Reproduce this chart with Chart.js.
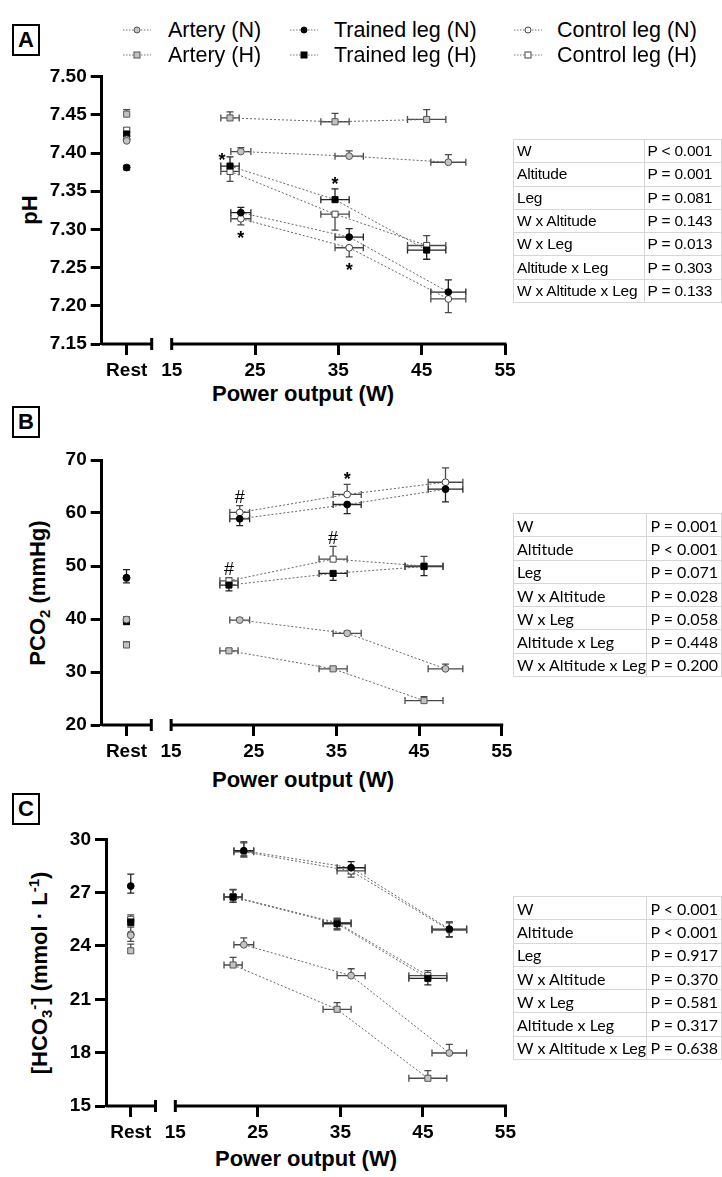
<!DOCTYPE html>
<html>
<head>
<meta charset="utf-8">
<script src="https://cdn.jsdelivr.net/npm/chart.js@4.4.1/dist/chart.umd.min.js"></script>
<style>
  html, body { margin: 0; padding: 0; background: #fff; }
  body { width: 722px; height: 1177px; position: relative; overflow: hidden; font-family: "Liberation Sans", Arial, sans-serif; color: #000; }
  canvas { position: absolute; left: 0; }
  .tag { position: absolute; left: 12px; width: 24px; height: 28px; border: 2.5px solid #000; font: bold 22px "Liberation Sans", Arial, sans-serif; text-align: center; line-height: 28px; }
  .ytitle { position: absolute; font: bold 22px "Liberation Sans", Arial, sans-serif; white-space: nowrap; transform: translate(-50%, -50%) rotate(-90deg); }
  .xtitle { position: absolute; font: bold 22px "Liberation Sans", Arial, sans-serif; white-space: nowrap; transform: translate(-50%, -50%); }
  .ytitle sub, .ytitle sup { font-size: 15px; }
  .lg-text { position: absolute; font: 21.5px "Liberation Sans", Arial, sans-serif; white-space: nowrap; transform: translateY(-50%); }
  .lg-mark { position: absolute; }
  table.stats { position: absolute; left: 513px; border-collapse: collapse; }
  table.stats td { border: 1px solid #d6d6d6; height: 22.3px; padding: 0 0 0 3px; white-space: nowrap; }
  table.stats td:first-child { width: 131px; }
  table.stats td:last-child { width: 80px; }
  table.arial td { font: 15.5px "Liberation Sans", Arial, sans-serif; letter-spacing: -0.2px; }
  table.calibri td { font: 16px Lato, "Open Sans", sans-serif; }
</style>
</head>
<body>

<div class="tag" style="top:24px">A</div>
<div class="tag" style="top:406px">B</div>
<div class="tag" style="top:793px">C</div>

<div class="ytitle" style="left:30px; top:210px">pH</div>
<div class="ytitle" style="left:39px; top:593px">PCO<sub>2</sub> (mmHg)</div>
<div class="ytitle" style="left:40px; top:973px">[HCO<sub>3</sub><sup>-</sup>] (mmol · L<sup>-1</sup>)</div>

<div class="xtitle" style="left:303px; top:394px">Power output (W)</div>
<div class="xtitle" style="left:303px; top:780px">Power output (W)</div>
<div class="xtitle" style="left:306px; top:1159px">Power output (W)</div>

<canvas id="chartA" width="520" height="324" style="top:60px"></canvas>
<canvas id="chartB" width="520" height="325" style="top:440px"></canvas>
<canvas id="chartC" width="520" height="326" style="top:820px"></canvas>

<div id="legend"></div>
<table class="stats arial" id="tableA" style="top:139px"></table>
<table class="stats calibri" id="tableB" style="top:513px"></table>
<table class="stats calibri" id="tableC" style="top:896px"></table>

<script>
// ---- series ----
const seriesNames = ['Artery (N)', 'Trained leg (N)', 'Control leg (N)', 'Artery (H)', 'Trained leg (H)', 'Control leg (H)'];
const seriesShape = ['circle', 'circle', 'circle', 'rect', 'rect', 'rect'];
const seriesFill = ['#c3c3c3', '#000', '#fff', '#c3c3c3', '#000', '#fff'];
const seriesEdge = ['#555', '#000', '#444', '#555', '#000', '#444'];

// power output (W) for normoxia / hypoxia, with SD
const powerN = [23.3, 36.3, 48.2];
const powerH = [22.0, 34.6, 45.6];
const powerSdN = [1.2, 1.7, 2.1];
const powerSdH = [1.1, 1.7, 2.3];
const powerTicks = [15, 25, 35, 45, 55];

// ---- A: pH ----
const phTicks = [7.15, 7.20, 7.25, 7.30, 7.35, 7.40, 7.45, 7.50];
const phArteryN = [7.402, 7.396, 7.388];
const phTrainedN = [7.322, 7.290, 7.218];
const phControlN = [7.314, 7.276, 7.209];
const phArteryH = [7.446, 7.441, 7.444];
const phTrainedH = [7.383, 7.339, 7.273];
const phControlH = [7.376, 7.320, 7.279];
// error bars as [below, above]
const phErr = [
  [[0, 0.005], [0, 0.007], [0, 0.010]],
  [[0, 0.007], [0, 0.011], [0, 0.016]],
  [[0.008, 0], [0.012, 0], [0.018, 0]],
  [[0, 0.008], [0, 0.011], [0, 0.013]],
  [[0, 0.012], [0, 0.014], [0.012, 0]],
  [[0.013, 0], [0.021, 0], [0, 0.013]]
];
const phRest = [7.416, 7.381, 7.418, 7.451, 7.425, 7.430];
const phRestErr = [[0, 0.003], [0.003, 0.003], [0, 0], [0, 0.006], [0.003, 0], [0, 0.003]];
const phMarks = [[4, 0, '*', 'left'], [4, 1, '*', 'up'], [2, 0, '*', 'down'], [2, 1, '*', 'down']];
const phP = ['P < 0.001', 'P = 0.001', 'P = 0.081', 'P = 0.143', 'P = 0.013', 'P = 0.303', 'P = 0.133'];

// ---- B: PCO2 ----
const pco2Ticks = [20, 30, 40, 50, 60, 70];
const pco2ArteryN = [39.8, 37.3, 30.6];
const pco2TrainedN = [58.9, 61.6, 64.5];
const pco2ControlN = [60.1, 63.5, 65.8];
const pco2ArteryH = [34.0, 30.6, 24.6];
const pco2TrainedH = [46.4, 48.6, 49.9];
const pco2ControlH = [47.2, 51.3, 50.0];
const pco2Err = [
  [[0, 0.4], [0, 0.4], [0, 0.9]],
  [[1.3, 0], [1.7, 0], [2.4, 0]],
  [[0, 1.3], [0, 1.9], [0, 2.7]],
  [[0, 0.4], [0, 0.4], [0, 0.75]],
  [[1.1, 0], [1.3, 0], [1.7, 0]],
  [[0, 0.6], [0, 2.4], [0, 1.8]]
];
const pco2Rest = [39.9, 47.8, 47.7, 35.1, 39.5, 39.8];
const pco2RestErr = [[0, 0], [1.0, 1.5], [0, 0], [0, 0.6], [0.4, 0], [0, 0.6]];
const pco2Marks = [[2, 0, '#', 'up'], [2, 1, '*', 'up'], [5, 0, '#', 'up'], [5, 1, '#', 'up']];
const pco2P = ['P = 0.001', 'P < 0.001', 'P = 0.071', 'P = 0.028', 'P = 0.058', 'P = 0.448', 'P = 0.200'];

// ---- C: HCO3- ----
const hco3Ticks = [15, 18, 21, 24, 27, 30];
const hco3ArteryN = [24.07, 22.33, 17.98];
const hco3TrainedN = [29.36, 28.40, 24.95];
const hco3ControlN = [29.30, 28.22, 24.90];
const hco3ArteryH = [22.93, 20.44, 16.56];
const hco3TrainedH = [26.75, 25.25, 22.18];
const hco3ControlH = [26.77, 25.31, 22.33];
const hco3Err = [
  [[0, 0.39], [0, 0.39], [0, 0.49]],
  [[0.3, 0.5], [0.34, 0.34], [0.43, 0.41]],
  [[0.3, 0.5], [0.35, 0], [0.4, 0.4]],
  [[0, 0.43], [0, 0.37], [0, 0.43]],
  [[0.3, 0.4], [0.34, 0.25], [0.37, 0]],
  [[0.3, 0.41], [0.34, 0.25], [0, 0.28]]
];
const hco3Rest = [24.6, 27.37, 24.66, 23.73, 25.35, 25.5];
const hco3RestErr = [[0, 0], [0.4, 0.67], [0.4, 0.4], [0, 0.37], [0.2, 0], [0, 0.25]];
const hco3Marks = [];
const hco3P = ['P < 0.001', 'P < 0.001', 'P = 0.917', 'P = 0.370', 'P = 0.581', 'P = 0.317', 'P = 0.638'];

const effects = ['W', 'Altitude', 'Leg', 'W x Altitude', 'W x Leg', 'Altitude x Leg', 'W x Altitude x Leg'];

// x scale layout: the Rest column and the broken axis live on one linear scale
const X_MIN = 6.6, X_MAX = 55;
const REST_X = 9.6;
const BREAK_X = 12.6;

const FONT = '"Liberation Sans", Arial, sans-serif';
Chart.defaults.animation = false;
Chart.defaults.font.family = FONT;

const errorBars = {
  id: 'errorBars',
  beforeDatasetsDraw(chart) {
    const { ctx, scales: { x, y } } = chart;
    const cap = 3.5;
    ctx.save();
    ctx.lineWidth = 1.3;
    chart.data.datasets.forEach(ds => {
      ctx.strokeStyle = ds.errColor;
      ds.data.forEach((p, j) => {
        const px = x.getPixelForValue(p.x), py = y.getPixelForValue(p.y);
        const [lo, hi] = ds.errY[j];
        ctx.beginPath();
        if (hi > 0) {
          const t = y.getPixelForValue(p.y + hi);
          ctx.moveTo(px, py); ctx.lineTo(px, t);
          ctx.moveTo(px - cap, t); ctx.lineTo(px + cap, t);
        }
        if (lo > 0) {
          const b = y.getPixelForValue(p.y - lo);
          ctx.moveTo(px, py); ctx.lineTo(px, b);
          ctx.moveTo(px - cap, b); ctx.lineTo(px + cap, b);
        }
        const ex = ds.errX ? ds.errX[j] : 0;
        if (ex > 0) {
          const l = x.getPixelForValue(p.x - ex), r = x.getPixelForValue(p.x + ex);
          ctx.moveTo(l, py); ctx.lineTo(r, py);
          ctx.moveTo(l, py - cap); ctx.lineTo(l, py + cap);
          ctx.moveTo(r, py - cap); ctx.lineTo(r, py + cap);
        }
        ctx.stroke();
      });
    });
    ctx.restore();
  }
};

// broken x axis + significance marks
const axisBreak = {
  id: 'axisBreak',
  afterDraw(chart, args, opts) {
    const { ctx, scales: { x, y } } = chart;
    const ay = y.bottom;
    const xb = x.getPixelForValue(BREAK_X), x15 = x.getPixelForValue(powerTicks[0]);
    ctx.save();
    ctx.strokeStyle = '#000';
    ctx.lineWidth = 3;
    ctx.beginPath();
    ctx.moveTo(x.left, ay); ctx.lineTo(xb, ay);
    ctx.moveTo(x15, ay); ctx.lineTo(x.right + 1.5, ay);
    ctx.moveTo(xb, ay - 6); ctx.lineTo(xb, ay + 6);
    ctx.moveTo(x15, ay - 6); ctx.lineTo(x15, ay + 6);
    ctx.stroke();

    ctx.fillStyle = '#000';
    ctx.textAlign = 'center';
    ctx.textBaseline = 'alphabetic';
    (opts.marks || []).forEach(([si, j, sym, side]) => {
      const ds = chart.data.datasets[si];
      const p = ds.data[j];
      const [lo, hi] = ds.errY[j];
      let px = x.getPixelForValue(p.x), cy;
      if (side === 'down') cy = y.getPixelForValue(p.y - lo) + 9;
      else if (side === 'left') { cy = y.getPixelForValue(p.y + hi) - 1; px -= 8; }
      else cy = y.getPixelForValue(p.y + hi) - 9;
      if (sym === '*') {
        ctx.font = 'bold 18px ' + FONT;
        ctx.fillText(sym, px, cy + 10);
      } else {
        ctx.font = '18px ' + FONT;
        ctx.fillText(sym, px, cy + 6.5);
      }
    });
    ctx.restore();
  }
};

function buildPanel(id, layout, ticks, decimals, means, err, rest, restErr, marks) {
  const datasets = [];
  means.forEach((vals, i) => {
    const hyp = i >= 3;
    const w = hyp ? powerH : powerN;
    datasets.push({
      label: seriesNames[i],
      data: vals.map((v, j) => ({ x: w[j], y: v })),
      showLine: true,
      borderColor: '#666',
      borderWidth: 1,
      borderDash: [2, 2],
      pointStyle: seriesShape[i],
      pointRadius: seriesShape[i] === 'rect' ? 4.3 : 3.4,
      pointBackgroundColor: seriesFill[i],
      pointBorderColor: seriesEdge[i],
      pointBorderWidth: 1,
      errX: hyp ? powerSdH : powerSdN,
      errY: err[i],
      errColor: seriesFill[i] === '#000' ? '#222' : '#4a4a4a'
    });
  });
  rest.forEach((v, i) => {
    datasets.push({
      label: seriesNames[i] + ' rest',
      data: [{ x: REST_X, y: v }],
      showLine: false,
      pointStyle: seriesShape[i],
      pointRadius: seriesShape[i] === 'rect' ? 4.3 : 3.4,
      pointBackgroundColor: seriesFill[i],
      pointBorderColor: seriesEdge[i],
      pointBorderWidth: 1,
      errY: [restErr[i]],
      errColor: seriesFill[i] === '#000' ? '#222' : '#4a4a4a'
    });
  });

  const tickFont = { family: FONT, size: 19, weight: 'bold' };
  return new Chart(document.getElementById(id), {
    type: 'scatter',
    data: { datasets },
    options: {
      responsive: false,
      events: [],
      layout: { padding: { top: layout.top, right: layout.right, bottom: 0, left: 0 } },
      plugins: { legend: { display: false }, tooltip: { enabled: false }, axisBreak: { marks } },
      scales: {
        x: {
          type: 'linear', min: X_MIN, max: X_MAX,
          afterBuildTicks: s => { s.ticks = [REST_X, ...powerTicks].map(v => ({ value: v })); },
          afterFit: s => { s.height = 40; },
          border: { display: false },
          grid: {
            drawOnChartArea: false, tickLength: 11, tickWidth: 3,
            tickColor: c => (c.tick && c.tick.value === powerTicks[0]) ? 'rgba(0,0,0,0)' : '#000'
          },
          ticks: {
            autoSkip: false, maxRotation: 0, padding: 4, color: '#000', font: tickFont,
            callback: v => v === REST_X ? 'Rest' : String(v)
          }
        },
        y: {
          min: ticks[0], max: ticks[ticks.length - 1],
          afterBuildTicks: s => { s.ticks = ticks.map(v => ({ value: v })); },
          afterFit: s => { s.width = layout.yWidth; },
          border: { width: 3, color: '#000' },
          grid: { drawOnChartArea: false, tickLength: 11, tickWidth: 3, tickColor: '#000' },
          ticks: { padding: 4, color: '#000', font: tickFont, callback: v => v.toFixed(decimals) }
        }
      }
    },
    plugins: [errorBars, axisBreak]
  });
}

buildPanel('chartA', { top: 16.7, right: 15, yWidth: 101.7 }, phTicks, 2,
  [phArteryN, phTrainedN, phControlN, phArteryH, phTrainedH, phControlH], phErr, phRest, phRestErr, phMarks);
buildPanel('chartB', { top: 20, right: 18.3, yWidth: 101.7 }, pco2Ticks, 0,
  [pco2ArteryN, pco2TrainedN, pco2ControlN, pco2ArteryH, pco2TrainedH, pco2ControlH], pco2Err, pco2Rest, pco2RestErr, pco2Marks);
buildPanel('chartC', { top: 19.3, right: 12.3, yWidth: 106 }, hco3Ticks, 0,
  [hco3ArteryN, hco3TrainedN, hco3ControlN, hco3ArteryH, hco3TrainedH, hco3ControlH], hco3Err, hco3Rest, hco3RestErr, hco3Marks);

// legend (two rows: normoxia, hypoxia)
const legend = document.getElementById('legend');
const lgMarkX = [123, 290, 514];
const lgTextX = [168, 334, 557];
const lgRowY = [30, 55];
seriesNames.forEach((name, i) => {
  const col = i % 3, row = Math.floor(i / 3);
  const shape = seriesShape[i] === 'rect'
    ? `<rect x="11" y="3" width="6" height="6" fill="${seriesFill[i]}" stroke="${seriesEdge[i]}" stroke-width="1"/>`
    : `<circle cx="14" cy="6" r="3" fill="${seriesFill[i]}" stroke="${seriesEdge[i]}" stroke-width="1"/>`;
  legend.insertAdjacentHTML('beforeend',
    `<svg class="lg-mark" width="28" height="12" style="left:${lgMarkX[col]}px; top:${lgRowY[row] - 6}px">
       <line x1="0" y1="6" x2="28" y2="6" stroke="#777" stroke-width="1" stroke-dasharray="1.5 1.5"/>${shape}</svg>
     <div class="lg-text" style="left:${lgTextX[col]}px; top:${lgRowY[row]}px">${name}</div>`);
});

function fillTable(id, pvals) {
  document.getElementById(id).innerHTML =
    effects.map((e, i) => `<tr><td>${e}</td><td>${pvals[i]}</td></tr>`).join('');
}
fillTable('tableA', phP);
fillTable('tableB', pco2P);
fillTable('tableC', hco3P);
</script>
</body>
</html>
